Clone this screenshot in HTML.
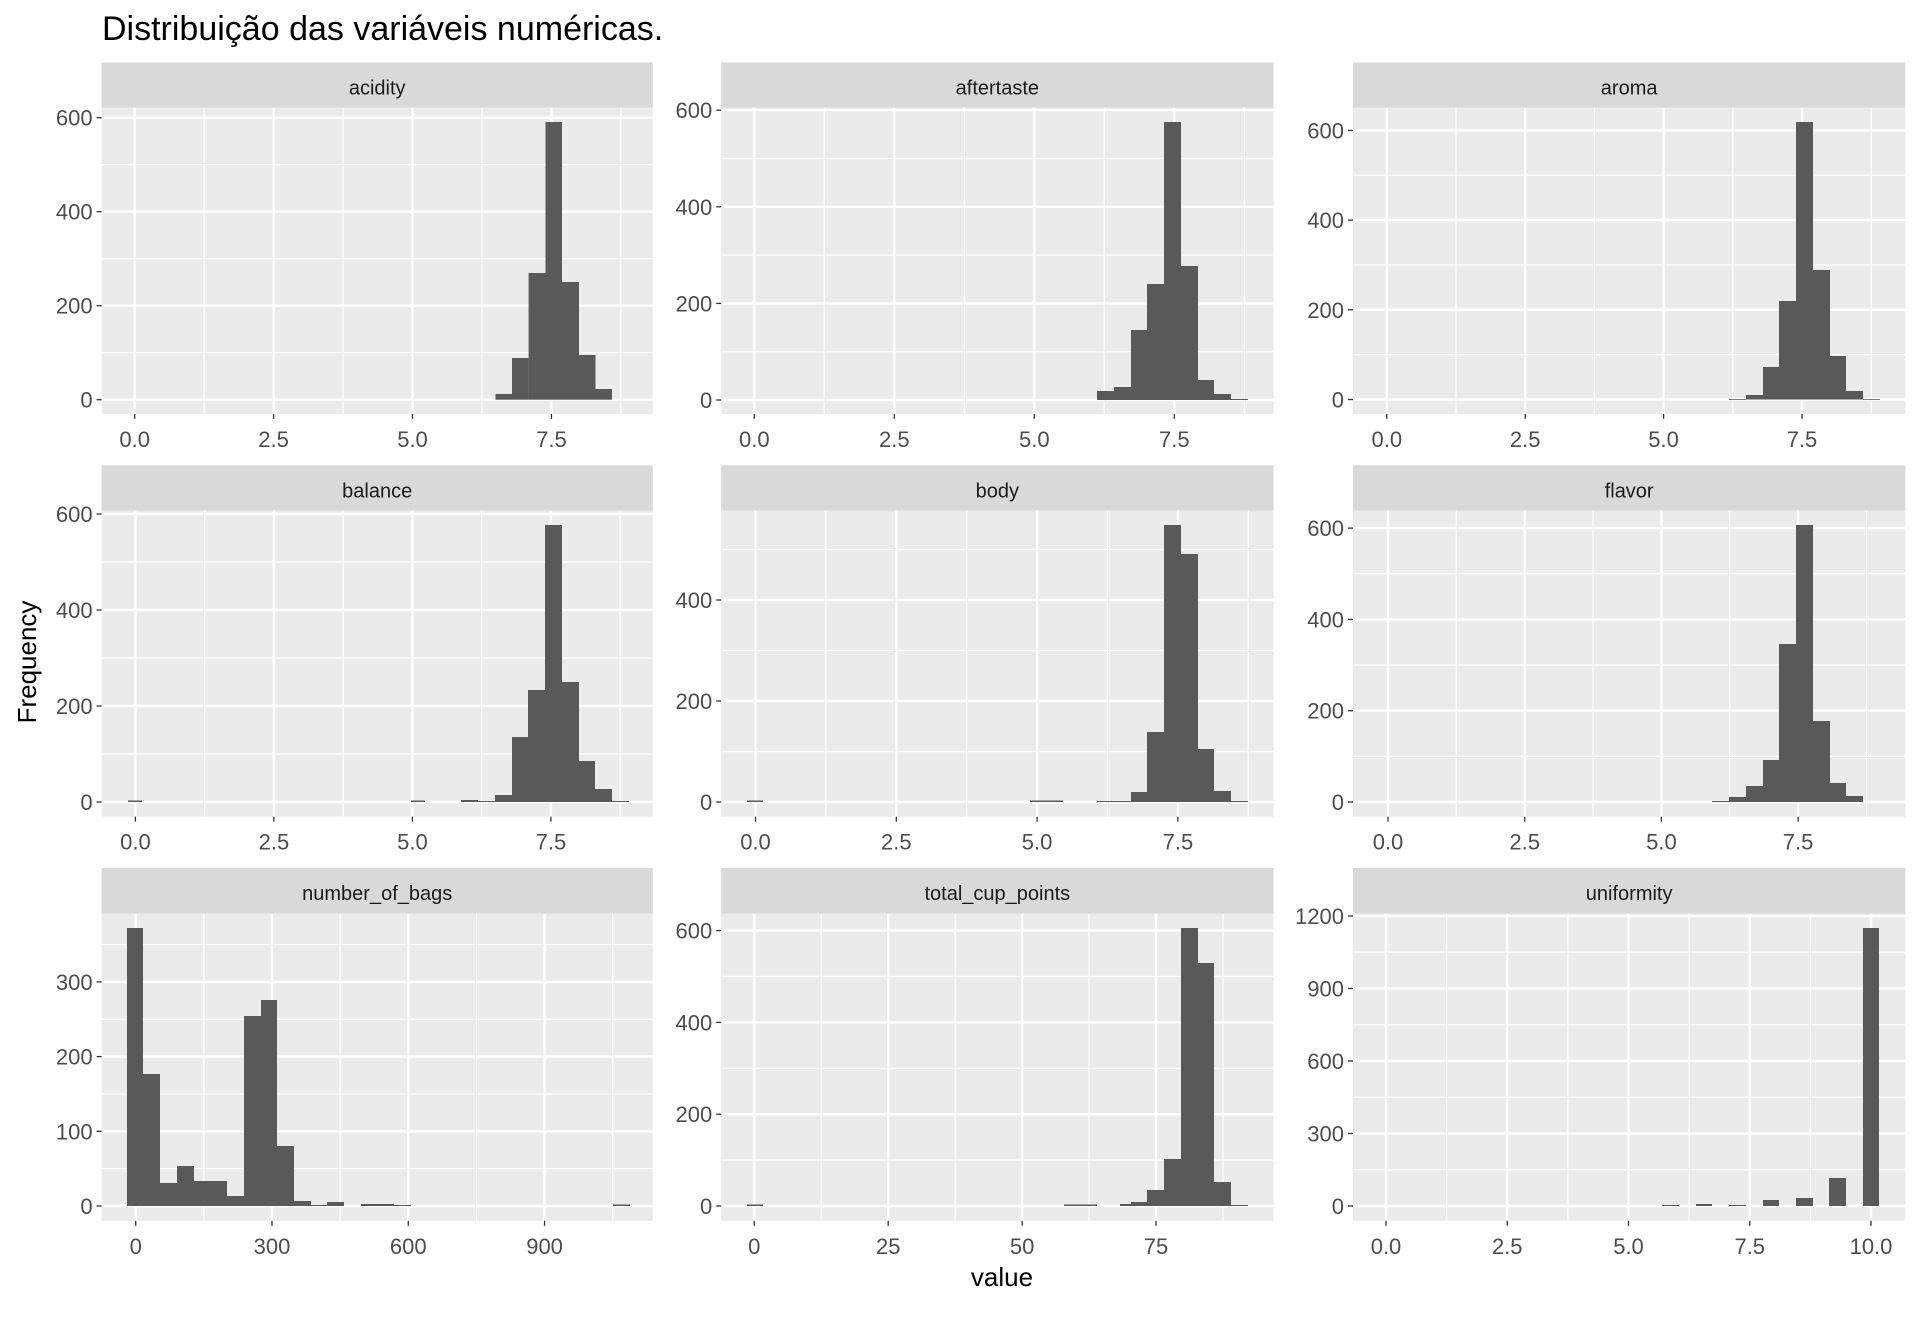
<!DOCTYPE html>
<html><head><meta charset="utf-8"><style>
html,body{margin:0;padding:0;background:#fff;}
svg{display:block;}
text{font-family:"Liberation Sans",Arial,sans-serif;}
</style></head><body>
<svg id="s" xmlns="http://www.w3.org/2000/svg" width="1920" height="1344" viewBox="0 0 1920 1344">
<rect width="1920" height="1344" fill="#fff"/>
<text x="102" y="40" font-size="34" fill="#000">Distribuição das variáveis numéricas.</text>
<text x="0" y="0" font-size="26" fill="#000" text-anchor="middle" transform="translate(36,662) rotate(-90)">Frequency</text>
<text x="1002" y="1286" font-size="26" fill="#000" text-anchor="middle">value</text>
</svg>
<script>
var C=[[101.6,652.8],[721.2,1273.5],[1353,1905.3]];
var R=[[62.5,107.8,413.9],[465.3,510.6,816.7],[868,913.5,1220.8]];
function B(edges,tops){var a=[];for(var i=0;i<tops.length;i++)a.push([edges[i],edges[i+1],tops[i]]);return a;}
var P=[
{n:"acidity",c:0,r:0,x0:134.7,xs:55.56,xt:[0,2.5,5,7.5],xl:["0.0","2.5","5.0","7.5"],xm:[1.25,3.75,6.25,8.75],y0:399.7,ys:0.47,yt:[0,200,400,600],ym:[100,300,500,700],
 b:B([495.5,512,528.6,545.5,562,579,595.5,612],[394,358,273,122,282,355,389])},
{n:"aftertaste",c:1,r:0,x0:754.3,xs:56,xt:[0,2.5,5,7.5],xl:["0.0","2.5","5.0","7.5"],xm:[1.25,3.75,6.25,8.75],y0:400,ys:0.483,yt:[0,200,400,600],ym:[100,300,500,700],
 b:B([1097,1114,1131,1147,1164,1181,1198,1214,1231,1248],[391,387,330,284,122,266,380,394,399])},
{n:"aroma",c:2,r:0,x0:1386.8,xs:55.36,xt:[0,2.5,5,7.5],xl:["0.0","2.5","5.0","7.5"],xm:[1.25,3.75,6.25,8.75],y0:399.5,ys:0.4485,yt:[0,200,400,600],ym:[100,300,500,700],
 b:B([1729,1746,1763,1779,1796,1813,1830,1846,1863,1880],[399,395,367,301,122,270,356,391,399])},
{n:"balance",c:0,r:1,x0:135.4,xs:55.4,xt:[0,2.5,5,7.5],xl:["0.0","2.5","5.0","7.5"],xm:[1.25,3.75,6.25,8.75],y0:802,ys:0.48,yt:[0,200,400,600],ym:[100,300,500,700],
 b:B([461,478,495,512,528,545,562,579,595,612,629],[800,801,795,737,690,525,682,761,789,801]).concat([[128,142,800.5],[411,425,800.5]])},
{n:"body",c:1,r:1,x0:755.5,xs:56.32,xt:[0,2.5,5,7.5],xl:["0.0","2.5","5.0","7.5"],xm:[1.25,3.75,6.25,8.75],y0:802,ys:0.505,yt:[0,200,400],ym:[100,300,500],
 b:B([1097,1131,1147,1164,1181,1198,1214,1231,1248],[801,792,732,525,554,749,791,801]).concat([[747,763,800.5],[1030,1063,800.5]])},
{n:"flavor",c:2,r:1,x0:1388,xs:54.68,xt:[0,2.5,5,7.5],xl:["0.0","2.5","5.0","7.5"],xm:[1.25,3.75,6.25,8.75],y0:802,ys:0.4565,yt:[0,200,400,600],ym:[100,300,500,700],
 b:B([1712,1729,1746,1763,1779,1796,1813,1830,1846,1863],[801,797,786,760,644,525,721,783,796])},
{n:"number_of_bags",c:0,r:2,x0:135.7,xs:0.4543,xt:[0,300,600,900],xl:["0","300","600","900"],xm:[150,450,750,1050],y0:1206,ys:0.747,yt:[0,100,200,300],ym:[50,150,250,350],
 b:B([127,143,160,177,194,210,227,244,261,277,294,311,327,344],[928,1074,1183,1166,1181,1181,1196,1016,1000,1146,1201,1205,1202]).concat([[361,394,1204],[394,411,1205],[613,630,1204.5]])},
{n:"total_cup_points",c:1,r:2,x0:754.3,xs:5.356,xt:[0,25,50,75],xl:["0","25","50","75"],xm:[12.5,37.5,62.5,87.5],y0:1206,ys:0.459,yt:[0,200,400,600],ym:[100,300,500,700],
 b:B([1120,1131,1147,1164,1181,1198,1214,1231,1248],[1204,1202,1190,1159,928,963,1182,1205]).concat([[1064,1097,1204.5],[747,763,1204.5]])},
{n:"uniformity",c:2,r:2,x0:1386,xs:48.5,xt:[0,2.5,5,7.5,10],xl:["0.0","2.5","5.0","7.5","10.0"],xm:[1.25,3.75,6.25,8.75],y0:1206,ys:0.2417,yt:[0,300,600,900,1200],ym:[150,450,750,1050],
 b:[[1662,1679,1205],[1696,1712,1204],[1729,1746,1205],[1763,1779,1200],[1796,1813,1198],[1829,1846,1178],[1863,1879,928]]}
];
var h="";
P.forEach(function(p){
 var x1=C[p.c][0],x2=C[p.c][1],st=R[p.r][0],t=R[p.r][1],bo=R[p.r][2];
 h+='<rect x="'+x1+'" y="'+st+'" width="'+(x2-x1)+'" height="'+(t-st)+'" fill="#D9D9D9"/>';
 h+='<text x="'+((x1+x2)/2)+'" y="'+(st+32)+'" font-size="20" fill="#1A1A1A" text-anchor="middle">'+p.n+'</text>';
 h+='<rect x="'+x1+'" y="'+t+'" width="'+(x2-x1)+'" height="'+(bo-t)+'" fill="#EBEBEB"/>';
 function vx(v){return p.x0+v*p.xs;} function vy(v){return p.y0-v*p.ys;}
 p.ym.forEach(function(v){var y=vy(v);if(y>t&&y<bo)h+='<line x1="'+x1+'" x2="'+x2+'" y1="'+y+'" y2="'+y+'" stroke="#fff" stroke-width="1.2"/>';});
 p.xm.forEach(function(v){var x=vx(v);if(x>x1&&x<x2)h+='<line x1="'+x+'" x2="'+x+'" y1="'+t+'" y2="'+bo+'" stroke="#fff" stroke-width="1.2"/>';});
 p.yt.forEach(function(v){var y=vy(v);h+='<line x1="'+x1+'" x2="'+x2+'" y1="'+y+'" y2="'+y+'" stroke="#fff" stroke-width="2.4"/>';
  h+='<line x1="'+(x1-5)+'" x2="'+x1+'" y1="'+y+'" y2="'+y+'" stroke="#333" stroke-width="1.3"/>';
  h+='<text x="'+(x1-9)+'" y="'+(y+8)+'" font-size="22" fill="#4D4D4D" text-anchor="end">'+v+'</text>';});
 p.xt.forEach(function(v,i){var x=vx(v);h+='<line x1="'+x+'" x2="'+x+'" y1="'+t+'" y2="'+bo+'" stroke="#fff" stroke-width="2.4"/>';
  h+='<line x1="'+x+'" x2="'+x+'" y1="'+bo+'" y2="'+(bo+5)+'" stroke="#333" stroke-width="1.3"/>';
  h+='<text x="'+x+'" y="'+(bo+33)+'" font-size="22" fill="#4D4D4D" text-anchor="middle">'+p.xl[i]+'</text>';});
 p.b.forEach(function(b){h+='<rect x="'+b[0]+'" y="'+b[2]+'" width="'+(b[1]-b[0])+'" height="'+Math.max(0.8,p.y0-b[2])+'" fill="#595959"/>';});
});
document.getElementById("s").insertAdjacentHTML("beforeend",h);
</script>
</body></html>
